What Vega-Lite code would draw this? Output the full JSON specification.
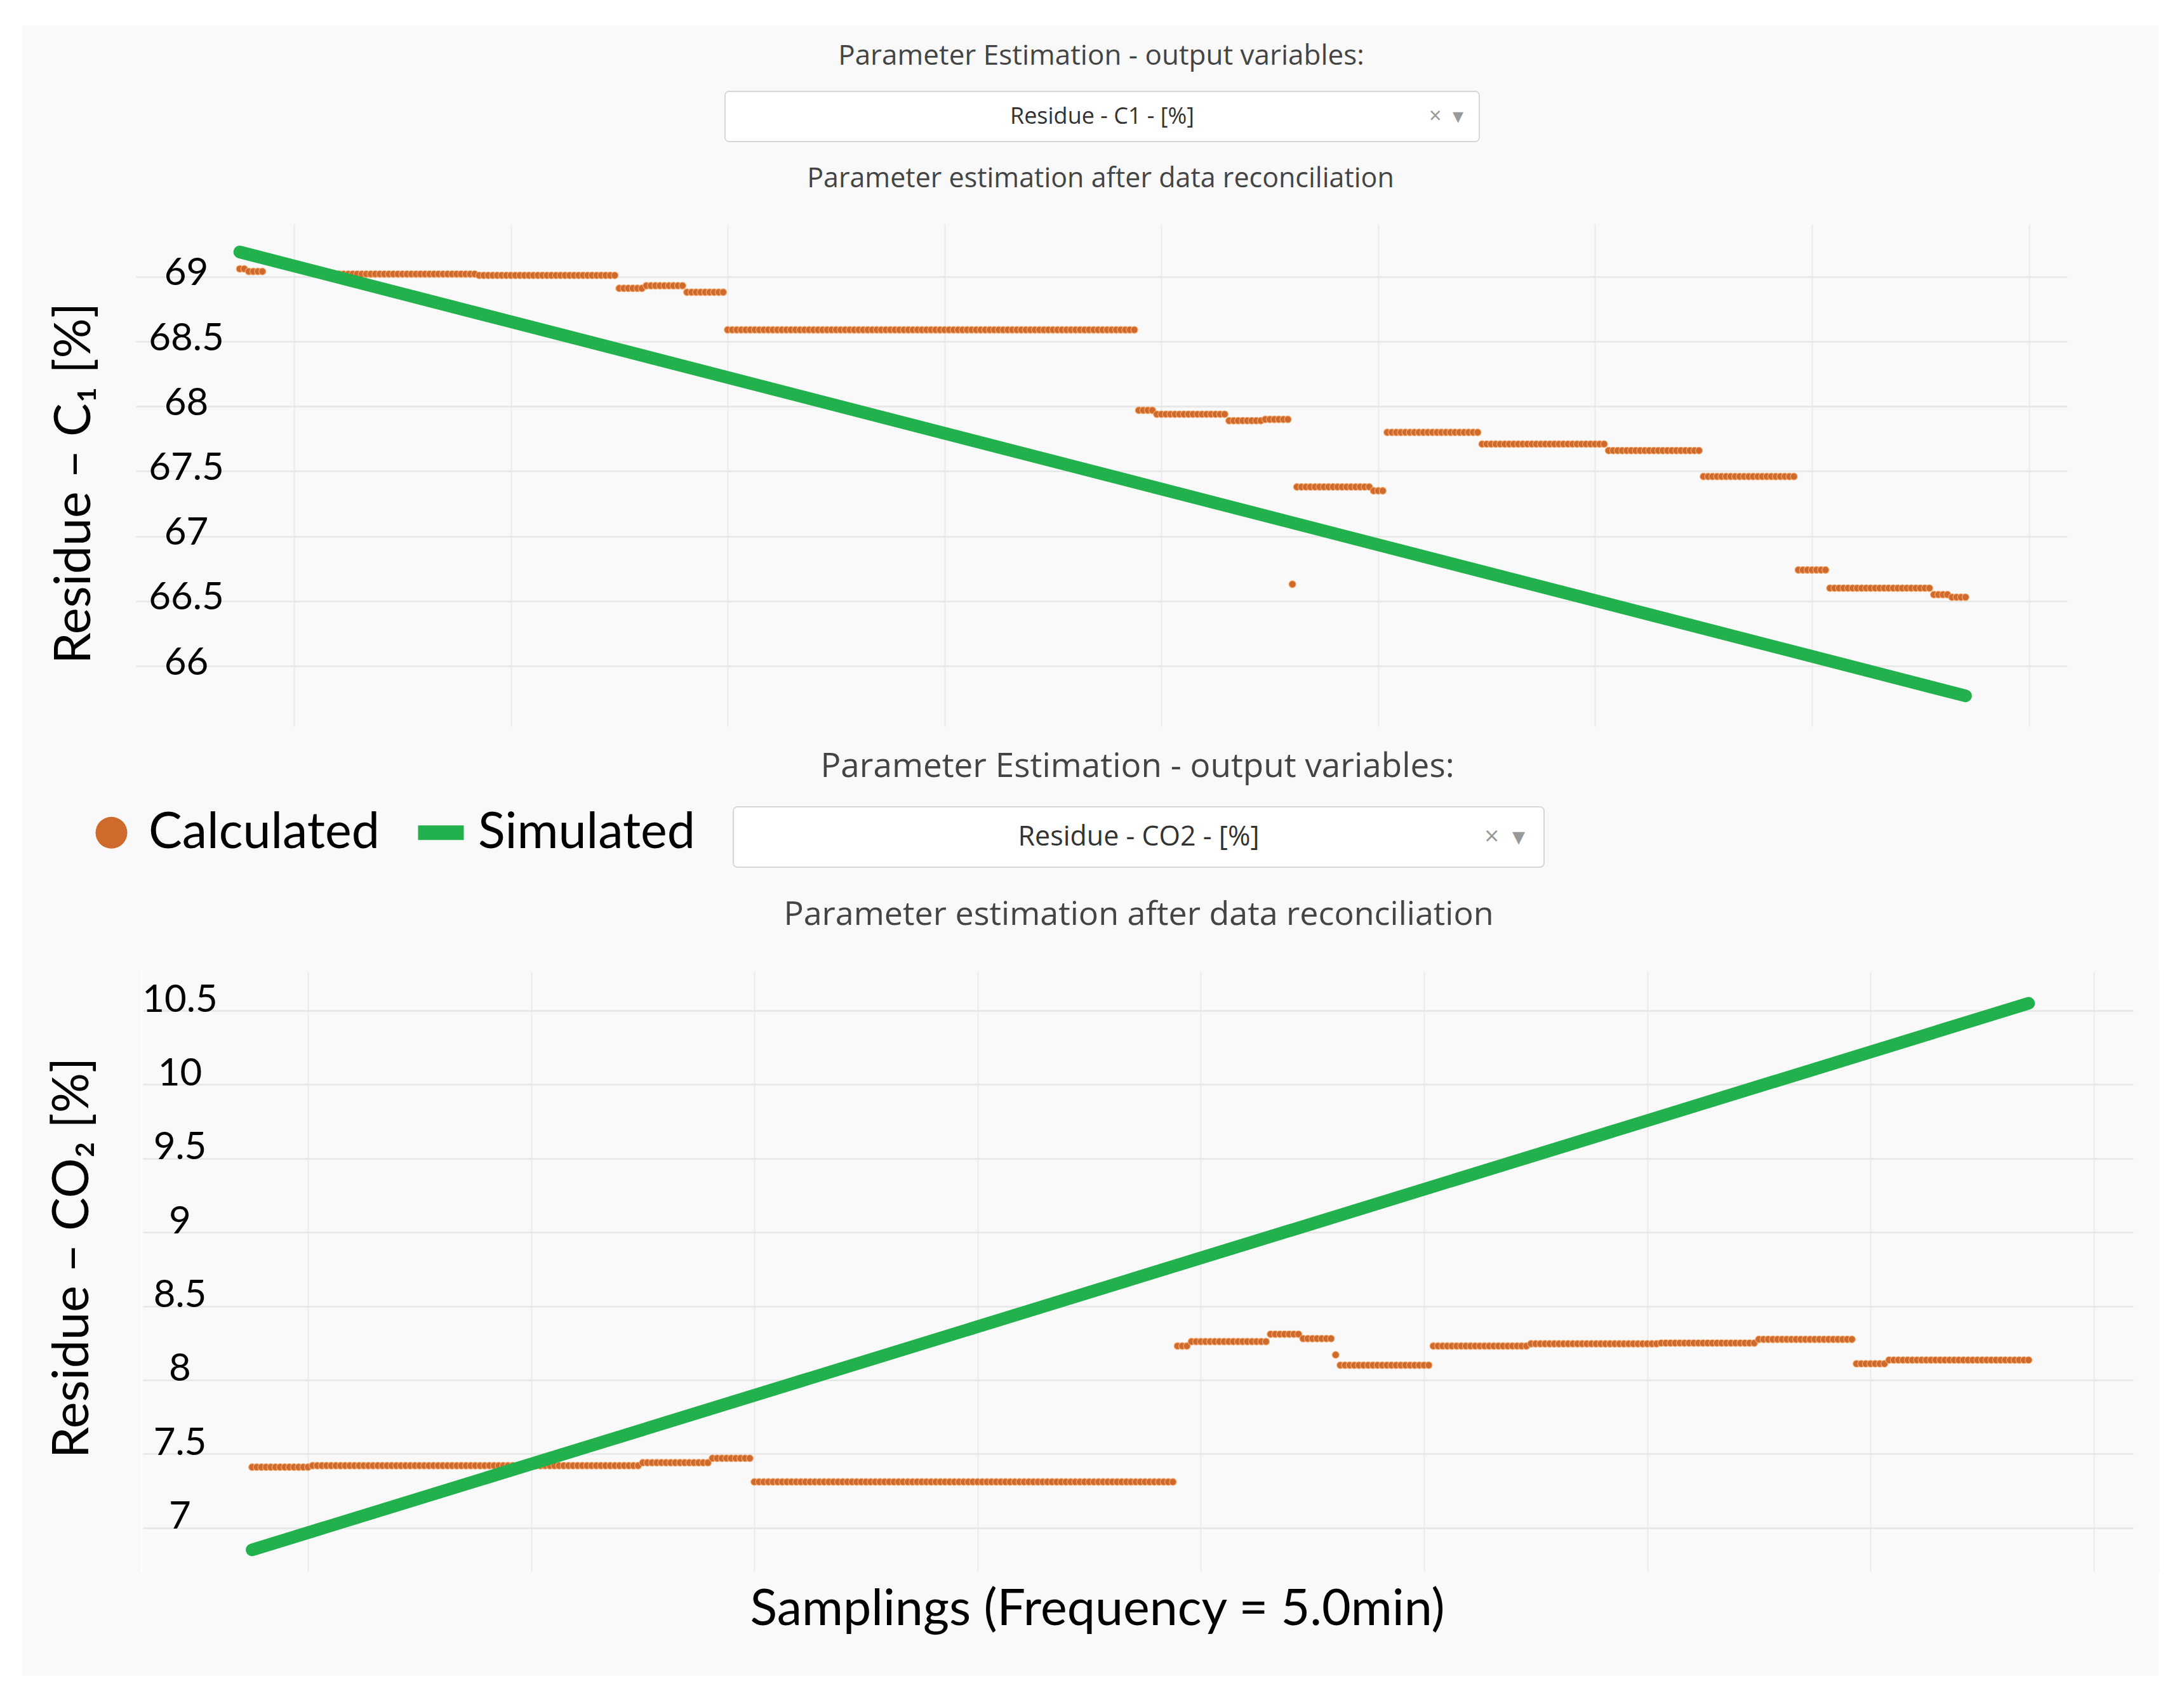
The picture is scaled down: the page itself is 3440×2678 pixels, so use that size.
{
"$schema": "https://vega.github.io/schema/vega-lite/v6.json",
"background": "white",
"padding": {"left": 35, "top": 40, "right": 40, "bottom": 38},
"spacing": 0,
"config": {"view": {"stroke": "#f9f9f9", "strokeWidth": 2, "fill": "#f9f9f9"}, "concat": {"spacing": 0}, "axis": {"minExtent": 0}},
"datasets": {
"c1": [{"i":0,"v":69.06},{"i":1,"v":69.06},{"i":2,"v":69.04},{"i":3,"v":69.04},{"i":4,"v":69.04},{"i":5,"v":69.04},
{"i":21,"v":69.02},{"i":22,"v":69.02},{"i":23,"v":69.02},{"i":24,"v":69.02},{"i":25,"v":69.02},{"i":26,"v":69.02},{"i":27,"v":69.02},{"i":28,"v":69.02},{"i":29,"v":69.02},{"i":30,"v":69.02},{"i":31,"v":69.02},{"i":32,"v":69.02},{"i":33,"v":69.02},{"i":34,"v":69.02},{"i":35,"v":69.02},{"i":36,"v":69.02},{"i":37,"v":69.02},{"i":38,"v":69.02},{"i":39,"v":69.02},{"i":40,"v":69.02},{"i":41,"v":69.02},{"i":42,"v":69.02},{"i":43,"v":69.02},{"i":44,"v":69.02},{"i":45,"v":69.02},{"i":46,"v":69.02},{"i":47,"v":69.02},{"i":48,"v":69.02},{"i":49,"v":69.02},{"i":50,"v":69.02},{"i":51,"v":69.02},{"i":52,"v":69.02},
{"i":53,"v":69.01},{"i":54,"v":69.01},{"i":55,"v":69.01},{"i":56,"v":69.01},{"i":57,"v":69.01},{"i":58,"v":69.01},{"i":59,"v":69.01},{"i":60,"v":69.01},{"i":61,"v":69.01},{"i":62,"v":69.01},{"i":63,"v":69.01},{"i":64,"v":69.01},{"i":65,"v":69.01},{"i":66,"v":69.01},{"i":67,"v":69.01},{"i":68,"v":69.01},{"i":69,"v":69.01},{"i":70,"v":69.01},{"i":71,"v":69.01},{"i":72,"v":69.01},{"i":73,"v":69.01},{"i":74,"v":69.01},{"i":75,"v":69.01},{"i":76,"v":69.01},{"i":77,"v":69.01},{"i":78,"v":69.01},{"i":79,"v":69.01},{"i":80,"v":69.01},{"i":81,"v":69.01},{"i":82,"v":69.01},{"i":83,"v":69.01},
{"i":84,"v":68.91},{"i":85,"v":68.91},{"i":86,"v":68.91},{"i":87,"v":68.91},{"i":88,"v":68.91},{"i":89,"v":68.91},
{"i":90,"v":68.93},{"i":91,"v":68.93},{"i":92,"v":68.93},{"i":93,"v":68.93},{"i":94,"v":68.93},{"i":95,"v":68.93},{"i":96,"v":68.93},{"i":97,"v":68.93},{"i":98,"v":68.93},
{"i":99,"v":68.88},{"i":100,"v":68.88},{"i":101,"v":68.88},{"i":102,"v":68.88},{"i":103,"v":68.88},{"i":104,"v":68.88},{"i":105,"v":68.88},{"i":106,"v":68.88},{"i":107,"v":68.88},
{"i":108,"v":68.59},{"i":109,"v":68.59},{"i":110,"v":68.59},{"i":111,"v":68.59},{"i":112,"v":68.59},{"i":113,"v":68.59},{"i":114,"v":68.59},{"i":115,"v":68.59},{"i":116,"v":68.59},{"i":117,"v":68.59},{"i":118,"v":68.59},{"i":119,"v":68.59},{"i":120,"v":68.59},{"i":121,"v":68.59},{"i":122,"v":68.59},{"i":123,"v":68.59},{"i":124,"v":68.59},{"i":125,"v":68.59},{"i":126,"v":68.59},{"i":127,"v":68.59},{"i":128,"v":68.59},{"i":129,"v":68.59},{"i":130,"v":68.59},{"i":131,"v":68.59},{"i":132,"v":68.59},{"i":133,"v":68.59},{"i":134,"v":68.59},{"i":135,"v":68.59},{"i":136,"v":68.59},{"i":137,"v":68.59},{"i":138,"v":68.59},{"i":139,"v":68.59},{"i":140,"v":68.59},{"i":141,"v":68.59},{"i":142,"v":68.59},{"i":143,"v":68.59},{"i":144,"v":68.59},{"i":145,"v":68.59},{"i":146,"v":68.59},{"i":147,"v":68.59},{"i":148,"v":68.59},{"i":149,"v":68.59},{"i":150,"v":68.59},{"i":151,"v":68.59},{"i":152,"v":68.59},{"i":153,"v":68.59},{"i":154,"v":68.59},{"i":155,"v":68.59},{"i":156,"v":68.59},{"i":157,"v":68.59},{"i":158,"v":68.59},{"i":159,"v":68.59},{"i":160,"v":68.59},{"i":161,"v":68.59},{"i":162,"v":68.59},{"i":163,"v":68.59},{"i":164,"v":68.59},{"i":165,"v":68.59},{"i":166,"v":68.59},{"i":167,"v":68.59},{"i":168,"v":68.59},{"i":169,"v":68.59},{"i":170,"v":68.59},{"i":171,"v":68.59},{"i":172,"v":68.59},{"i":173,"v":68.59},{"i":174,"v":68.59},{"i":175,"v":68.59},{"i":176,"v":68.59},{"i":177,"v":68.59},{"i":178,"v":68.59},{"i":179,"v":68.59},{"i":180,"v":68.59},{"i":181,"v":68.59},{"i":182,"v":68.59},{"i":183,"v":68.59},{"i":184,"v":68.59},{"i":185,"v":68.59},{"i":186,"v":68.59},{"i":187,"v":68.59},{"i":188,"v":68.59},{"i":189,"v":68.59},{"i":190,"v":68.59},{"i":191,"v":68.59},{"i":192,"v":68.59},{"i":193,"v":68.59},{"i":194,"v":68.59},{"i":195,"v":68.59},{"i":196,"v":68.59},{"i":197,"v":68.59},{"i":198,"v":68.59},
{"i":199,"v":67.97},{"i":200,"v":67.97},{"i":201,"v":67.97},{"i":202,"v":67.97},
{"i":203,"v":67.94},{"i":204,"v":67.94},{"i":205,"v":67.94},{"i":206,"v":67.94},{"i":207,"v":67.94},{"i":208,"v":67.94},{"i":209,"v":67.94},{"i":210,"v":67.94},{"i":211,"v":67.94},{"i":212,"v":67.94},{"i":213,"v":67.94},{"i":214,"v":67.94},{"i":215,"v":67.94},{"i":216,"v":67.94},{"i":217,"v":67.94},{"i":218,"v":67.94},
{"i":219,"v":67.89},{"i":220,"v":67.89},{"i":221,"v":67.89},{"i":222,"v":67.89},{"i":223,"v":67.89},{"i":224,"v":67.89},{"i":225,"v":67.89},{"i":226,"v":67.89},
{"i":227,"v":67.9},{"i":228,"v":67.9},{"i":229,"v":67.9},{"i":230,"v":67.9},{"i":231,"v":67.9},{"i":232,"v":67.9},
{"i":233,"v":66.63},
{"i":234,"v":67.38},{"i":235,"v":67.38},{"i":236,"v":67.38},{"i":237,"v":67.38},{"i":238,"v":67.38},{"i":239,"v":67.38},{"i":240,"v":67.38},{"i":241,"v":67.38},{"i":242,"v":67.38},{"i":243,"v":67.38},{"i":244,"v":67.38},{"i":245,"v":67.38},{"i":246,"v":67.38},{"i":247,"v":67.38},{"i":248,"v":67.38},{"i":249,"v":67.38},{"i":250,"v":67.38},
{"i":251,"v":67.35},{"i":252,"v":67.35},{"i":253,"v":67.35},
{"i":254,"v":67.8},{"i":255,"v":67.8},{"i":256,"v":67.8},{"i":257,"v":67.8},{"i":258,"v":67.8},{"i":259,"v":67.8},{"i":260,"v":67.8},{"i":261,"v":67.8},{"i":262,"v":67.8},{"i":263,"v":67.8},{"i":264,"v":67.8},{"i":265,"v":67.8},{"i":266,"v":67.8},{"i":267,"v":67.8},{"i":268,"v":67.8},{"i":269,"v":67.8},{"i":270,"v":67.8},{"i":271,"v":67.8},{"i":272,"v":67.8},{"i":273,"v":67.8},{"i":274,"v":67.8},
{"i":275,"v":67.71},{"i":276,"v":67.71},{"i":277,"v":67.71},{"i":278,"v":67.71},{"i":279,"v":67.71},{"i":280,"v":67.71},{"i":281,"v":67.71},{"i":282,"v":67.71},{"i":283,"v":67.71},{"i":284,"v":67.71},{"i":285,"v":67.71},{"i":286,"v":67.71},{"i":287,"v":67.71},{"i":288,"v":67.71},{"i":289,"v":67.71},{"i":290,"v":67.71},{"i":291,"v":67.71},{"i":292,"v":67.71},{"i":293,"v":67.71},{"i":294,"v":67.71},{"i":295,"v":67.71},{"i":296,"v":67.71},{"i":297,"v":67.71},{"i":298,"v":67.71},{"i":299,"v":67.71},{"i":300,"v":67.71},{"i":301,"v":67.71},{"i":302,"v":67.71},
{"i":303,"v":67.66},{"i":304,"v":67.66},{"i":305,"v":67.66},{"i":306,"v":67.66},{"i":307,"v":67.66},{"i":308,"v":67.66},{"i":309,"v":67.66},{"i":310,"v":67.66},{"i":311,"v":67.66},{"i":312,"v":67.66},{"i":313,"v":67.66},{"i":314,"v":67.66},{"i":315,"v":67.66},{"i":316,"v":67.66},{"i":317,"v":67.66},{"i":318,"v":67.66},{"i":319,"v":67.66},{"i":320,"v":67.66},{"i":321,"v":67.66},{"i":322,"v":67.66},{"i":323,"v":67.66},
{"i":324,"v":67.46},{"i":325,"v":67.46},{"i":326,"v":67.46},{"i":327,"v":67.46},{"i":328,"v":67.46},{"i":329,"v":67.46},{"i":330,"v":67.46},{"i":331,"v":67.46},{"i":332,"v":67.46},{"i":333,"v":67.46},{"i":334,"v":67.46},{"i":335,"v":67.46},{"i":336,"v":67.46},{"i":337,"v":67.46},{"i":338,"v":67.46},{"i":339,"v":67.46},{"i":340,"v":67.46},{"i":341,"v":67.46},{"i":342,"v":67.46},{"i":343,"v":67.46},{"i":344,"v":67.46},
{"i":345,"v":66.74},{"i":346,"v":66.74},{"i":347,"v":66.74},{"i":348,"v":66.74},{"i":349,"v":66.74},{"i":350,"v":66.74},{"i":351,"v":66.74},
{"i":352,"v":66.6},{"i":353,"v":66.6},{"i":354,"v":66.6},{"i":355,"v":66.6},{"i":356,"v":66.6},{"i":357,"v":66.6},{"i":358,"v":66.6},{"i":359,"v":66.6},{"i":360,"v":66.6},{"i":361,"v":66.6},{"i":362,"v":66.6},{"i":363,"v":66.6},{"i":364,"v":66.6},{"i":365,"v":66.6},{"i":366,"v":66.6},{"i":367,"v":66.6},{"i":368,"v":66.6},{"i":369,"v":66.6},{"i":370,"v":66.6},{"i":371,"v":66.6},{"i":372,"v":66.6},{"i":373,"v":66.6},{"i":374,"v":66.6},
{"i":375,"v":66.55},{"i":376,"v":66.55},{"i":377,"v":66.55},{"i":378,"v":66.55},
{"i":379,"v":66.53},{"i":380,"v":66.53},{"i":381,"v":66.53},{"i":382,"v":66.53}],
"co2": [{"i":0,"v":7.41,"s":"Calculated"},{"i":1,"v":7.41,"s":"Calculated"},{"i":2,"v":7.41,"s":"Calculated"},{"i":3,"v":7.41,"s":"Calculated"},{"i":4,"v":7.41,"s":"Calculated"},{"i":5,"v":7.41,"s":"Calculated"},{"i":6,"v":7.41,"s":"Calculated"},{"i":7,"v":7.41,"s":"Calculated"},{"i":8,"v":7.41,"s":"Calculated"},{"i":9,"v":7.41,"s":"Calculated"},{"i":10,"v":7.41,"s":"Calculated"},{"i":11,"v":7.41,"s":"Calculated"},{"i":12,"v":7.41,"s":"Calculated"},
{"i":13,"v":7.42,"s":"Calculated"},{"i":14,"v":7.42,"s":"Calculated"},{"i":15,"v":7.42,"s":"Calculated"},{"i":16,"v":7.42,"s":"Calculated"},{"i":17,"v":7.42,"s":"Calculated"},{"i":18,"v":7.42,"s":"Calculated"},{"i":19,"v":7.42,"s":"Calculated"},{"i":20,"v":7.42,"s":"Calculated"},{"i":21,"v":7.42,"s":"Calculated"},{"i":22,"v":7.42,"s":"Calculated"},{"i":23,"v":7.42,"s":"Calculated"},{"i":24,"v":7.42,"s":"Calculated"},{"i":25,"v":7.42,"s":"Calculated"},{"i":26,"v":7.42,"s":"Calculated"},{"i":27,"v":7.42,"s":"Calculated"},{"i":28,"v":7.42,"s":"Calculated"},{"i":29,"v":7.42,"s":"Calculated"},{"i":30,"v":7.42,"s":"Calculated"},{"i":31,"v":7.42,"s":"Calculated"},{"i":32,"v":7.42,"s":"Calculated"},{"i":33,"v":7.42,"s":"Calculated"},{"i":34,"v":7.42,"s":"Calculated"},{"i":35,"v":7.42,"s":"Calculated"},{"i":36,"v":7.42,"s":"Calculated"},{"i":37,"v":7.42,"s":"Calculated"},{"i":38,"v":7.42,"s":"Calculated"},{"i":39,"v":7.42,"s":"Calculated"},{"i":40,"v":7.42,"s":"Calculated"},{"i":41,"v":7.42,"s":"Calculated"},{"i":42,"v":7.42,"s":"Calculated"},{"i":43,"v":7.42,"s":"Calculated"},{"i":44,"v":7.42,"s":"Calculated"},{"i":45,"v":7.42,"s":"Calculated"},{"i":46,"v":7.42,"s":"Calculated"},{"i":47,"v":7.42,"s":"Calculated"},{"i":48,"v":7.42,"s":"Calculated"},{"i":49,"v":7.42,"s":"Calculated"},{"i":50,"v":7.42,"s":"Calculated"},{"i":51,"v":7.42,"s":"Calculated"},{"i":52,"v":7.42,"s":"Calculated"},{"i":53,"v":7.42,"s":"Calculated"},{"i":54,"v":7.42,"s":"Calculated"},{"i":55,"v":7.42,"s":"Calculated"},{"i":56,"v":7.42,"s":"Calculated"},{"i":57,"v":7.42,"s":"Calculated"},{"i":58,"v":7.42,"s":"Calculated"},{"i":59,"v":7.42,"s":"Calculated"},{"i":60,"v":7.42,"s":"Calculated"},{"i":61,"v":7.42,"s":"Calculated"},{"i":62,"v":7.42,"s":"Calculated"},{"i":63,"v":7.42,"s":"Calculated"},{"i":64,"v":7.42,"s":"Calculated"},{"i":65,"v":7.42,"s":"Calculated"},{"i":66,"v":7.42,"s":"Calculated"},{"i":67,"v":7.42,"s":"Calculated"},{"i":68,"v":7.42,"s":"Calculated"},{"i":69,"v":7.42,"s":"Calculated"},{"i":70,"v":7.42,"s":"Calculated"},{"i":71,"v":7.42,"s":"Calculated"},{"i":72,"v":7.42,"s":"Calculated"},{"i":73,"v":7.42,"s":"Calculated"},{"i":74,"v":7.42,"s":"Calculated"},{"i":75,"v":7.42,"s":"Calculated"},{"i":76,"v":7.42,"s":"Calculated"},{"i":77,"v":7.42,"s":"Calculated"},{"i":78,"v":7.42,"s":"Calculated"},{"i":79,"v":7.42,"s":"Calculated"},{"i":80,"v":7.42,"s":"Calculated"},{"i":81,"v":7.42,"s":"Calculated"},{"i":82,"v":7.42,"s":"Calculated"},{"i":83,"v":7.42,"s":"Calculated"},
{"i":84,"v":7.44,"s":"Calculated"},{"i":85,"v":7.44,"s":"Calculated"},{"i":86,"v":7.44,"s":"Calculated"},{"i":87,"v":7.44,"s":"Calculated"},{"i":88,"v":7.44,"s":"Calculated"},{"i":89,"v":7.44,"s":"Calculated"},{"i":90,"v":7.44,"s":"Calculated"},{"i":91,"v":7.44,"s":"Calculated"},{"i":92,"v":7.44,"s":"Calculated"},{"i":93,"v":7.44,"s":"Calculated"},{"i":94,"v":7.44,"s":"Calculated"},{"i":95,"v":7.44,"s":"Calculated"},{"i":96,"v":7.44,"s":"Calculated"},{"i":97,"v":7.44,"s":"Calculated"},{"i":98,"v":7.44,"s":"Calculated"},
{"i":99,"v":7.47,"s":"Calculated"},{"i":100,"v":7.47,"s":"Calculated"},{"i":101,"v":7.47,"s":"Calculated"},{"i":102,"v":7.47,"s":"Calculated"},{"i":103,"v":7.47,"s":"Calculated"},{"i":104,"v":7.47,"s":"Calculated"},{"i":105,"v":7.47,"s":"Calculated"},{"i":106,"v":7.47,"s":"Calculated"},{"i":107,"v":7.47,"s":"Calculated"},
{"i":108,"v":7.31,"s":"Calculated"},{"i":109,"v":7.31,"s":"Calculated"},{"i":110,"v":7.31,"s":"Calculated"},{"i":111,"v":7.31,"s":"Calculated"},{"i":112,"v":7.31,"s":"Calculated"},{"i":113,"v":7.31,"s":"Calculated"},{"i":114,"v":7.31,"s":"Calculated"},{"i":115,"v":7.31,"s":"Calculated"},{"i":116,"v":7.31,"s":"Calculated"},{"i":117,"v":7.31,"s":"Calculated"},{"i":118,"v":7.31,"s":"Calculated"},{"i":119,"v":7.31,"s":"Calculated"},{"i":120,"v":7.31,"s":"Calculated"},{"i":121,"v":7.31,"s":"Calculated"},{"i":122,"v":7.31,"s":"Calculated"},{"i":123,"v":7.31,"s":"Calculated"},{"i":124,"v":7.31,"s":"Calculated"},{"i":125,"v":7.31,"s":"Calculated"},{"i":126,"v":7.31,"s":"Calculated"},{"i":127,"v":7.31,"s":"Calculated"},{"i":128,"v":7.31,"s":"Calculated"},{"i":129,"v":7.31,"s":"Calculated"},{"i":130,"v":7.31,"s":"Calculated"},{"i":131,"v":7.31,"s":"Calculated"},{"i":132,"v":7.31,"s":"Calculated"},{"i":133,"v":7.31,"s":"Calculated"},{"i":134,"v":7.31,"s":"Calculated"},{"i":135,"v":7.31,"s":"Calculated"},{"i":136,"v":7.31,"s":"Calculated"},{"i":137,"v":7.31,"s":"Calculated"},{"i":138,"v":7.31,"s":"Calculated"},{"i":139,"v":7.31,"s":"Calculated"},{"i":140,"v":7.31,"s":"Calculated"},{"i":141,"v":7.31,"s":"Calculated"},{"i":142,"v":7.31,"s":"Calculated"},{"i":143,"v":7.31,"s":"Calculated"},{"i":144,"v":7.31,"s":"Calculated"},{"i":145,"v":7.31,"s":"Calculated"},{"i":146,"v":7.31,"s":"Calculated"},{"i":147,"v":7.31,"s":"Calculated"},{"i":148,"v":7.31,"s":"Calculated"},{"i":149,"v":7.31,"s":"Calculated"},{"i":150,"v":7.31,"s":"Calculated"},{"i":151,"v":7.31,"s":"Calculated"},{"i":152,"v":7.31,"s":"Calculated"},{"i":153,"v":7.31,"s":"Calculated"},{"i":154,"v":7.31,"s":"Calculated"},{"i":155,"v":7.31,"s":"Calculated"},{"i":156,"v":7.31,"s":"Calculated"},{"i":157,"v":7.31,"s":"Calculated"},{"i":158,"v":7.31,"s":"Calculated"},{"i":159,"v":7.31,"s":"Calculated"},{"i":160,"v":7.31,"s":"Calculated"},{"i":161,"v":7.31,"s":"Calculated"},{"i":162,"v":7.31,"s":"Calculated"},{"i":163,"v":7.31,"s":"Calculated"},{"i":164,"v":7.31,"s":"Calculated"},{"i":165,"v":7.31,"s":"Calculated"},{"i":166,"v":7.31,"s":"Calculated"},{"i":167,"v":7.31,"s":"Calculated"},{"i":168,"v":7.31,"s":"Calculated"},{"i":169,"v":7.31,"s":"Calculated"},{"i":170,"v":7.31,"s":"Calculated"},{"i":171,"v":7.31,"s":"Calculated"},{"i":172,"v":7.31,"s":"Calculated"},{"i":173,"v":7.31,"s":"Calculated"},{"i":174,"v":7.31,"s":"Calculated"},{"i":175,"v":7.31,"s":"Calculated"},{"i":176,"v":7.31,"s":"Calculated"},{"i":177,"v":7.31,"s":"Calculated"},{"i":178,"v":7.31,"s":"Calculated"},{"i":179,"v":7.31,"s":"Calculated"},{"i":180,"v":7.31,"s":"Calculated"},{"i":181,"v":7.31,"s":"Calculated"},{"i":182,"v":7.31,"s":"Calculated"},{"i":183,"v":7.31,"s":"Calculated"},{"i":184,"v":7.31,"s":"Calculated"},{"i":185,"v":7.31,"s":"Calculated"},{"i":186,"v":7.31,"s":"Calculated"},{"i":187,"v":7.31,"s":"Calculated"},{"i":188,"v":7.31,"s":"Calculated"},{"i":189,"v":7.31,"s":"Calculated"},{"i":190,"v":7.31,"s":"Calculated"},{"i":191,"v":7.31,"s":"Calculated"},{"i":192,"v":7.31,"s":"Calculated"},{"i":193,"v":7.31,"s":"Calculated"},{"i":194,"v":7.31,"s":"Calculated"},{"i":195,"v":7.31,"s":"Calculated"},{"i":196,"v":7.31,"s":"Calculated"},{"i":197,"v":7.31,"s":"Calculated"},{"i":198,"v":7.31,"s":"Calculated"},
{"i":199,"v":8.23,"s":"Calculated"},{"i":200,"v":8.23,"s":"Calculated"},{"i":201,"v":8.23,"s":"Calculated"},
{"i":202,"v":8.26,"s":"Calculated"},{"i":203,"v":8.26,"s":"Calculated"},{"i":204,"v":8.26,"s":"Calculated"},{"i":205,"v":8.26,"s":"Calculated"},{"i":206,"v":8.26,"s":"Calculated"},{"i":207,"v":8.26,"s":"Calculated"},{"i":208,"v":8.26,"s":"Calculated"},{"i":209,"v":8.26,"s":"Calculated"},{"i":210,"v":8.26,"s":"Calculated"},{"i":211,"v":8.26,"s":"Calculated"},{"i":212,"v":8.26,"s":"Calculated"},{"i":213,"v":8.26,"s":"Calculated"},{"i":214,"v":8.26,"s":"Calculated"},{"i":215,"v":8.26,"s":"Calculated"},{"i":216,"v":8.26,"s":"Calculated"},{"i":217,"v":8.26,"s":"Calculated"},{"i":218,"v":8.26,"s":"Calculated"},
{"i":219,"v":8.31,"s":"Calculated"},{"i":220,"v":8.31,"s":"Calculated"},{"i":221,"v":8.31,"s":"Calculated"},{"i":222,"v":8.31,"s":"Calculated"},{"i":223,"v":8.31,"s":"Calculated"},{"i":224,"v":8.31,"s":"Calculated"},{"i":225,"v":8.31,"s":"Calculated"},
{"i":226,"v":8.28,"s":"Calculated"},{"i":227,"v":8.28,"s":"Calculated"},{"i":228,"v":8.28,"s":"Calculated"},{"i":229,"v":8.28,"s":"Calculated"},{"i":230,"v":8.28,"s":"Calculated"},{"i":231,"v":8.28,"s":"Calculated"},{"i":232,"v":8.28,"s":"Calculated"},
{"i":233,"v":8.17,"s":"Calculated"},
{"i":234,"v":8.1,"s":"Calculated"},{"i":235,"v":8.1,"s":"Calculated"},{"i":236,"v":8.1,"s":"Calculated"},{"i":237,"v":8.1,"s":"Calculated"},{"i":238,"v":8.1,"s":"Calculated"},{"i":239,"v":8.1,"s":"Calculated"},{"i":240,"v":8.1,"s":"Calculated"},{"i":241,"v":8.1,"s":"Calculated"},{"i":242,"v":8.1,"s":"Calculated"},{"i":243,"v":8.1,"s":"Calculated"},{"i":244,"v":8.1,"s":"Calculated"},{"i":245,"v":8.1,"s":"Calculated"},{"i":246,"v":8.1,"s":"Calculated"},{"i":247,"v":8.1,"s":"Calculated"},{"i":248,"v":8.1,"s":"Calculated"},{"i":249,"v":8.1,"s":"Calculated"},{"i":250,"v":8.1,"s":"Calculated"},{"i":251,"v":8.1,"s":"Calculated"},{"i":252,"v":8.1,"s":"Calculated"},{"i":253,"v":8.1,"s":"Calculated"},
{"i":254,"v":8.23,"s":"Calculated"},{"i":255,"v":8.23,"s":"Calculated"},{"i":256,"v":8.23,"s":"Calculated"},{"i":257,"v":8.23,"s":"Calculated"},{"i":258,"v":8.23,"s":"Calculated"},{"i":259,"v":8.23,"s":"Calculated"},{"i":260,"v":8.23,"s":"Calculated"},{"i":261,"v":8.23,"s":"Calculated"},{"i":262,"v":8.23,"s":"Calculated"},{"i":263,"v":8.23,"s":"Calculated"},{"i":264,"v":8.23,"s":"Calculated"},{"i":265,"v":8.23,"s":"Calculated"},{"i":266,"v":8.23,"s":"Calculated"},{"i":267,"v":8.23,"s":"Calculated"},{"i":268,"v":8.23,"s":"Calculated"},{"i":269,"v":8.23,"s":"Calculated"},{"i":270,"v":8.23,"s":"Calculated"},{"i":271,"v":8.23,"s":"Calculated"},{"i":272,"v":8.23,"s":"Calculated"},{"i":273,"v":8.23,"s":"Calculated"},{"i":274,"v":8.23,"s":"Calculated"},
{"i":275,"v":8.245,"s":"Calculated"},{"i":276,"v":8.245,"s":"Calculated"},{"i":277,"v":8.245,"s":"Calculated"},{"i":278,"v":8.245,"s":"Calculated"},{"i":279,"v":8.245,"s":"Calculated"},{"i":280,"v":8.245,"s":"Calculated"},{"i":281,"v":8.245,"s":"Calculated"},{"i":282,"v":8.245,"s":"Calculated"},{"i":283,"v":8.245,"s":"Calculated"},{"i":284,"v":8.245,"s":"Calculated"},{"i":285,"v":8.245,"s":"Calculated"},{"i":286,"v":8.245,"s":"Calculated"},{"i":287,"v":8.245,"s":"Calculated"},{"i":288,"v":8.245,"s":"Calculated"},{"i":289,"v":8.245,"s":"Calculated"},{"i":290,"v":8.245,"s":"Calculated"},{"i":291,"v":8.245,"s":"Calculated"},{"i":292,"v":8.245,"s":"Calculated"},{"i":293,"v":8.245,"s":"Calculated"},{"i":294,"v":8.245,"s":"Calculated"},{"i":295,"v":8.245,"s":"Calculated"},{"i":296,"v":8.245,"s":"Calculated"},{"i":297,"v":8.245,"s":"Calculated"},{"i":298,"v":8.245,"s":"Calculated"},{"i":299,"v":8.245,"s":"Calculated"},{"i":300,"v":8.245,"s":"Calculated"},{"i":301,"v":8.245,"s":"Calculated"},{"i":302,"v":8.245,"s":"Calculated"},
{"i":303,"v":8.25,"s":"Calculated"},{"i":304,"v":8.25,"s":"Calculated"},{"i":305,"v":8.25,"s":"Calculated"},{"i":306,"v":8.25,"s":"Calculated"},{"i":307,"v":8.25,"s":"Calculated"},{"i":308,"v":8.25,"s":"Calculated"},{"i":309,"v":8.25,"s":"Calculated"},{"i":310,"v":8.25,"s":"Calculated"},{"i":311,"v":8.25,"s":"Calculated"},{"i":312,"v":8.25,"s":"Calculated"},{"i":313,"v":8.25,"s":"Calculated"},{"i":314,"v":8.25,"s":"Calculated"},{"i":315,"v":8.25,"s":"Calculated"},{"i":316,"v":8.25,"s":"Calculated"},{"i":317,"v":8.25,"s":"Calculated"},{"i":318,"v":8.25,"s":"Calculated"},{"i":319,"v":8.25,"s":"Calculated"},{"i":320,"v":8.25,"s":"Calculated"},{"i":321,"v":8.25,"s":"Calculated"},{"i":322,"v":8.25,"s":"Calculated"},{"i":323,"v":8.25,"s":"Calculated"},
{"i":324,"v":8.275,"s":"Calculated"},{"i":325,"v":8.275,"s":"Calculated"},{"i":326,"v":8.275,"s":"Calculated"},{"i":327,"v":8.275,"s":"Calculated"},{"i":328,"v":8.275,"s":"Calculated"},{"i":329,"v":8.275,"s":"Calculated"},{"i":330,"v":8.275,"s":"Calculated"},{"i":331,"v":8.275,"s":"Calculated"},{"i":332,"v":8.275,"s":"Calculated"},{"i":333,"v":8.275,"s":"Calculated"},{"i":334,"v":8.275,"s":"Calculated"},{"i":335,"v":8.275,"s":"Calculated"},{"i":336,"v":8.275,"s":"Calculated"},{"i":337,"v":8.275,"s":"Calculated"},{"i":338,"v":8.275,"s":"Calculated"},{"i":339,"v":8.275,"s":"Calculated"},{"i":340,"v":8.275,"s":"Calculated"},{"i":341,"v":8.275,"s":"Calculated"},{"i":342,"v":8.275,"s":"Calculated"},{"i":343,"v":8.275,"s":"Calculated"},{"i":344,"v":8.275,"s":"Calculated"},
{"i":345,"v":8.11,"s":"Calculated"},{"i":346,"v":8.11,"s":"Calculated"},{"i":347,"v":8.11,"s":"Calculated"},{"i":348,"v":8.11,"s":"Calculated"},{"i":349,"v":8.11,"s":"Calculated"},{"i":350,"v":8.11,"s":"Calculated"},{"i":351,"v":8.11,"s":"Calculated"},
{"i":352,"v":8.135,"s":"Calculated"},{"i":353,"v":8.135,"s":"Calculated"},{"i":354,"v":8.135,"s":"Calculated"},{"i":355,"v":8.135,"s":"Calculated"},{"i":356,"v":8.135,"s":"Calculated"},{"i":357,"v":8.135,"s":"Calculated"},{"i":358,"v":8.135,"s":"Calculated"},{"i":359,"v":8.135,"s":"Calculated"},{"i":360,"v":8.135,"s":"Calculated"},{"i":361,"v":8.135,"s":"Calculated"},{"i":362,"v":8.135,"s":"Calculated"},{"i":363,"v":8.135,"s":"Calculated"},{"i":364,"v":8.135,"s":"Calculated"},{"i":365,"v":8.135,"s":"Calculated"},{"i":366,"v":8.135,"s":"Calculated"},{"i":367,"v":8.135,"s":"Calculated"},{"i":368,"v":8.135,"s":"Calculated"},{"i":369,"v":8.135,"s":"Calculated"},{"i":370,"v":8.135,"s":"Calculated"},{"i":371,"v":8.135,"s":"Calculated"},{"i":372,"v":8.135,"s":"Calculated"},{"i":373,"v":8.135,"s":"Calculated"},{"i":374,"v":8.135,"s":"Calculated"},{"i":375,"v":8.135,"s":"Calculated"},{"i":376,"v":8.135,"s":"Calculated"},{"i":377,"v":8.135,"s":"Calculated"},{"i":378,"v":8.135,"s":"Calculated"},{"i":379,"v":8.135,"s":"Calculated"},{"i":380,"v":8.135,"s":"Calculated"},{"i":381,"v":8.135,"s":"Calculated"},{"i":382,"v":8.135,"s":"Calculated"}],
"sim1": [{"i":0,"v":69.19},{"i":382,"v":65.77}],
"sim2": [{"i":0,"v":6.85},{"i":382,"v":10.55}]
},
"vconcat": [
{"width": 3363, "height": 101, "view": {"fill": "#f9f9f9", "stroke": "#f9f9f9", "strokeWidth": 2},
 "data": {"values": [{"label": "Parameter Estimation - output variables:"}]},
 "mark": {"type": "text", "font": "Open Sans", "fontSize": 44, "color": "#444444", "dx": 17, "dy": -3},
 "encoding": {"text": {"field": "label"}}},
{"hconcat": [
  {"width": 1104, "height": 79, "view": {"fill": "#f9f9f9", "stroke": "#f9f9f9", "strokeWidth": 2}, "data": {"values": []}, "mark": "point"},
  {"width": 1188, "height": 79,
   "view": {"fill": "white", "stroke": "#d6d6d6", "strokeWidth": 2, "cornerRadius": 6},
   "data": {"values": [{"label": "Residue - C1 - [%]"}]},
   "layer": [
     {"mark": {"type": "text", "font": "Open Sans", "fontSize": 36, "color": "#333333"}, "encoding": {"text": {"field": "label"}}},
     {"mark": {"type": "text", "font": "Open Sans", "fontSize": 34, "color": "#999999", "x": "width", "align": "right", "dx": -25, "text": "×\u00a0\u00a0▾"}}
   ]},
  {"width": 1067, "height": 79, "view": {"fill": "#f9f9f9", "stroke": "#f9f9f9", "strokeWidth": 2}, "data": {"values": []}, "mark": "point"}
 ], "spacing": 0},
{"width": 3363, "height": 126, "view": {"fill": "#f9f9f9", "stroke": "#f9f9f9", "strokeWidth": 2},
 "data": {"values": [{"label": "Parameter estimation after data reconciliation"}]},
 "mark": {"type": "text", "font": "Open Sans", "fontSize": 43, "color": "#444444", "dx": 16, "dy": -6},
 "encoding": {"text": {"field": "label"}}},
{"hconcat": [
  {"width": 176, "height": 791, "view": {"fill": "#f9f9f9", "stroke": "#f9f9f9", "strokeWidth": 2},
   "data": {"values": [{"label": "Residue – C₁ [%]"}]},
   "mark": {"type": "text", "font": "Lato", "fontSize": 79, "color": "#000000", "angle": 270, "dx": -13, "dy": -6},
   "encoding": {"text": {"field": "label"}}},
  {"width": 3042, "height": 791, "view": {"fill": "#f9f9f9", "stroke": "#f9f9f9", "strokeWidth": 2},
   "layer": [
     {"data": {"name": "c1"},
      "mark": {"type": "point", "filled": true, "size": 120, "color": "#cf6a2c", "stroke": "#f2aa70", "strokeWidth": 1.2, "opacity": 1},
      "encoding": {
        "x": {"field": "i", "type": "quantitative", "scale": {"domain": [-23, 404.5], "nice": false, "zero": false},
              "axis": {"values": [12,60,108,156,204,252,300,348,396], "labels": false, "ticks": false, "domain": false, "title": null, "grid": true, "gridColor": "#ebebeb", "gridWidth": 2}},
        "y": {"field": "v", "type": "quantitative", "scale": {"domain": [65.536, 69.405], "nice": false, "zero": false},
              "axis": {"values": [66,66.5,67,67.5,68,68.5,69], "labelExpr": "datum.value + ''", "labelFont": "Lato", "labelFontSize": 60, "labelColor": "#000000", "labelAlign": "center", "labelBaseline": "middle", "labelPadding": -79, "labelOffset": -5, "ticks": false, "tickSize": 0, "domain": false, "grid": true, "gridColor": "#e6e6e6", "gridWidth": 2.5, "labelOverlap": false, "title": null}}
      }},
     {"data": {"name": "sim1"},
      "mark": {"type": "line", "color": "#22b14c", "strokeWidth": 20, "strokeCap": "round", "strokeJoin": "round", "clip": true},
      "encoding": {"x": {"field": "i", "type": "quantitative"}, "y": {"field": "v", "type": "quantitative"}}}
   ]},
  {"width": 141, "height": 791, "view": {"fill": "#f9f9f9", "stroke": "#f9f9f9", "strokeWidth": 2}, "data": {"values": []}, "mark": "point"}
 ], "spacing": 0},
{"width": 3363, "height": 123, "view": {"fill": "#f9f9f9", "stroke": "#f9f9f9", "strokeWidth": 2},
 "data": {"values": [{"label": "Parameter Estimation - output variables:"}]},
 "mark": {"type": "text", "font": "Open Sans", "fontSize": 53, "color": "#444444", "dx": 74, "dy": 0},
 "encoding": {"text": {"field": "label"}}},
{"hconcat": [
  {"width": 1117, "height": 95, "view": {"fill": "#f9f9f9", "stroke": "#f9f9f9", "strokeWidth": 2}, "data": {"values": []}, "mark": "point"},
  {"width": 1277, "height": 95,
   "view": {"fill": "white", "stroke": "#d6d6d6", "strokeWidth": 2, "cornerRadius": 6},
   "data": {"values": [{"label": "Residue - CO2 - [%]"}]},
   "layer": [
     {"mark": {"type": "text", "font": "Open Sans", "fontSize": 43, "color": "#333333"}, "encoding": {"text": {"field": "label"}}},
     {"mark": {"type": "text", "font": "Open Sans", "fontSize": 40, "color": "#999999", "x": "width", "align": "right", "dx": -30, "text": "×\u00a0\u00a0▾"}}
   ]},
  {"width": 965, "height": 95, "view": {"fill": "#f9f9f9", "stroke": "#f9f9f9", "strokeWidth": 2}, "data": {"values": []}, "mark": "point"}
 ], "spacing": 0},
{"width": 3363, "height": 160, "view": {"fill": "#f9f9f9", "stroke": "#f9f9f9", "strokeWidth": 2},
 "data": {"values": [{"label": "Parameter estimation after data reconciliation"}]},
 "mark": {"type": "text", "font": "Open Sans", "fontSize": 52, "color": "#444444", "dx": 76, "dy": -7},
 "encoding": {"text": {"field": "label"}}},
{"hconcat": [
  {"width": 185, "height": 945, "view": {"fill": "#f9f9f9", "stroke": "#f9f9f9", "strokeWidth": 2},
   "data": {"values": [{"label": "Residue – CO₂ [%]"}]},
   "mark": {"type": "text", "font": "Lato", "fontSize": 79, "color": "#000000", "angle": 270, "dx": 21, "dy": -14},
   "encoding": {"text": {"field": "label"}}},
  {"width": 3135, "height": 945, "view": {"fill": "#f9f9f9", "stroke": "#f9f9f9", "strokeWidth": 2},
   "layer": [
     {"data": {"name": "co2"},
      "mark": {"type": "point", "filled": true, "size": 120, "stroke": "#f2aa70", "strokeWidth": 1.2, "opacity": 1},
      "encoding": {
        "x": {"field": "i", "type": "quantitative", "scale": {"domain": [-23.5, 404.5], "nice": false, "zero": false},
              "axis": {"values": [12,60,108,156,204,252,300,348,396], "labels": false, "ticks": false, "domain": false, "title": null, "grid": true, "gridColor": "#ebebeb", "gridWidth": 2}},
        "y": {"field": "v", "type": "quantitative", "scale": {"domain": [6.706, 10.767], "nice": false, "zero": false},
              "axis": {"values": [7,7.5,8,8.5,9,9.5,10,10.5], "labelExpr": "datum.value + ''", "labelFont": "Lato", "labelFontSize": 60, "labelColor": "#000000", "labelAlign": "center", "labelBaseline": "middle", "labelPadding": -58, "labelOffset": -17, "ticks": false, "tickSize": 0, "domain": false, "grid": true, "gridColor": "#e6e6e6", "gridWidth": 2.5, "labelOverlap": false, "title": null}},
        "color": {"field": "s", "type": "nominal", "scale": {"domain": ["Calculated", "Simulated"], "range": ["#cf6a2c", "#22b14c"]},
                  "legend": {"orient": "none", "direction": "horizontal", "legendX": 100, "legendY": 1231, "title": null, "padding": 0, "symbolSize": 2500, "symbolStrokeWidth": 0, "symbolOpacity": 1, "labelFont": "Lato", "labelFontSize": 79, "labelColor": "#000000", "labelOffset": 19, "columnPadding": 57, "labelLimit": 1000}},
        "shape": {"field": "s", "type": "nominal", "scale": {"domain": ["Calculated", "Simulated"], "range": ["circle", "M-1.44,-0.46H1.44V0.46H-1.44Z"]},
                  "legend": {"orient": "none", "direction": "horizontal", "legendX": 100, "legendY": 1231, "title": null, "padding": 0, "symbolSize": 2500, "symbolStrokeWidth": 0, "symbolOpacity": 1, "labelFont": "Lato", "labelFontSize": 79, "labelColor": "#000000", "labelOffset": 19, "columnPadding": 57, "labelLimit": 1000}}
      }},
     {"data": {"name": "sim2"},
      "mark": {"type": "line", "color": "#22b14c", "strokeWidth": 20, "strokeCap": "round", "strokeJoin": "round", "clip": true},
      "encoding": {"x": {"field": "i", "type": "quantitative"}, "y": {"field": "v", "type": "quantitative"}}}
   ]},
  {"width": 39, "height": 945, "view": {"fill": "#f9f9f9", "stroke": "#f9f9f9", "strokeWidth": 2}, "data": {"values": []}, "mark": "point"}
 ], "spacing": 0},
{"width": 3363, "height": 162, "view": {"fill": "#f9f9f9", "stroke": "#f9f9f9", "strokeWidth": 2},
 "data": {"values": [{"label": "Samplings (Frequency = 5.0min)"}]},
 "mark": {"type": "text", "font": "Lato", "fontSize": 79, "color": "#000000", "baseline": "alphabetic", "dx": 11, "dy": 2},
 "encoding": {"text": {"field": "label"}}}
]
}
